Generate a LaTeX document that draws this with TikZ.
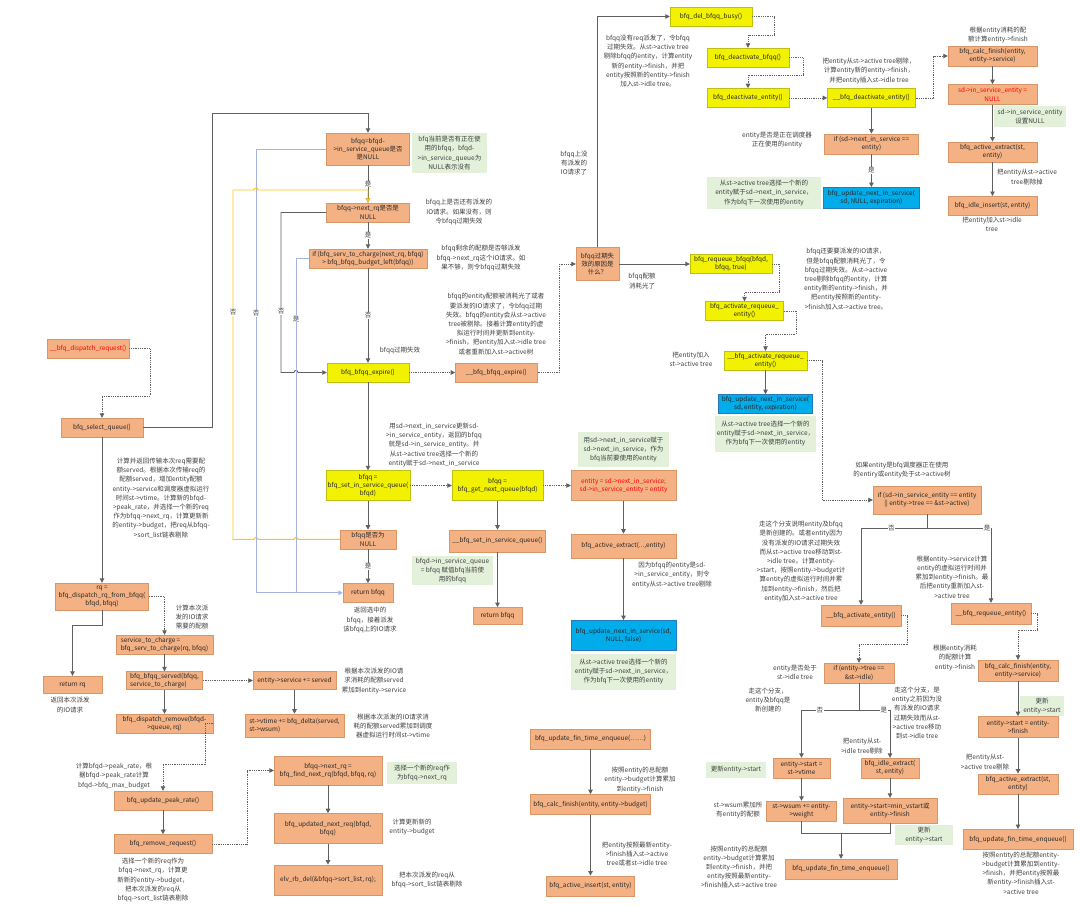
\documentclass[tikz,border=0pt]{standalone}
\usepackage{fontspec}
\setmainfont{Noto Sans CJK SC}
\usepackage{tikz}
\usetikzlibrary{arrows.meta,positioning,shadows}
\usepackage{xcolor}
\definecolor{boxorange}{RGB}{244,178,132}
\definecolor{boxorangeline}{RGB}{214,150,104}
\definecolor{boxyellow}{RGB}{242,242,0}
\definecolor{boxyellowline}{RGB}{190,190,20}
\definecolor{boxblue}{RGB}{0,172,234}
\definecolor{boxblueline}{RGB}{40,120,190}
\definecolor{notegreen}{RGB}{227,241,219}
\definecolor{notetext}{RGB}{62,62,62}
\definecolor{linegrey}{RGB}{96,96,96}
\definecolor{lineblue}{RGB}{165,178,226}
\definecolor{lineyellow}{RGB}{255,196,20}
\newcommand{\fnbox}[4]{%
  \node[#2, minimum width=#3, #4] (#1) }
\tikzset{
  fnbase/.style={rectangle, inner sep=1.5pt, align=center, text=black!85,
    font=\fontsize{6.4}{8.2}\selectfont,
    drop shadow={shadow xshift=0.8pt, shadow yshift=-0.8pt, opacity=0.25}},
  orangebox/.style={fnbase, fill=boxorange, draw=boxorangeline, line width=0.4pt, minimum height=19pt},
  yellowbox/.style={fnbase, fill=boxyellow, draw=boxyellowline, line width=0.4pt, minimum height=19pt},
  bluebox/.style={fnbase, fill=boxblue, draw=boxblueline, line width=0.4pt, minimum height=19pt},
  greennote/.style={rectangle, fill=notegreen, inner sep=1.5pt, align=center, text=notetext,
    font=\fontsize{6.5}{9.2}\selectfont},
  memo/.style={inner sep=0pt, align=center, text=notetext, font=\fontsize{6.5}{9.2}\selectfont},
  lbl/.style={fill=white, inner sep=0.6pt, text=notetext, font=\fontsize{6.5}{8}\selectfont},
  flowarrow/.style={draw=linegrey, line width=0.9pt, -{Triangle[length=4.5pt,width=4.5pt]}},
  callarrow/.style={draw=linegrey, line width=0.7pt, dash pattern=on 0.9pt off 0.9pt,
    -{Triangle[length=4.5pt,width=4.5pt]}},
  plainline/.style={draw=linegrey, line width=0.9pt},
  blueloop/.style={draw=lineblue, line width=0.9pt},
  blueflow/.style={blueloop, -{Triangle[length=4.5pt,width=4.5pt]}},
  yellowflow/.style={draw=lineyellow, line width=0.9pt, -{Triangle[length=4.5pt,width=4.5pt]}}
}
\begin{document}
\begin{tikzpicture}[x=1pt, y=-1pt, node distance=20pt and 20pt]
\useasboundingbox (0,0) rectangle (1080,906);

% bfq_select_queue
\fnbox{InSvcNull}{orangebox}{83pt}{minimum height=32pt, at={(368,149)}}
  {bfqq=bfqd-\\>in\_service\_queue是否\\是NULL};
\fnbox{NextRqNull}{orangebox}{83pt}{at={(368,212.5)}}
  {bfqq->next\_rq是否是\\NULL};
\fnbox{BudgetIf}{orangebox}{118pt}{at={(368,258.5)}}
  {if (bfq\_serv\_to\_charge(next\_rq, bfqq)\\> bfq\_bfqq\_budget\_left(bfqq))};
\fnbox{BfqqExpire}{yellowbox}{82pt}{at={(368,372.5)}}
  {bfq\_bfqq\_expire()};
\fnbox{BfqqExpireIn}{orangebox}{82pt}{right=46pt of BfqqExpire}
  {\_\_bfq\_bfqq\_expire()};
\fnbox{ExpireWhy}{orangebox}{43pt}{minimum height=33pt, at={(597.5,264)}}
  {bfqq过期失\\效的原因是\\什么？};

% expire: no more requests
\fnbox{DelBusy}{yellowbox}{82pt}{at={(711,16.5)}}
  {bfq\_del\_bfqq\_busy()};
\fnbox{DeactBfqq}{yellowbox}{82pt}{at={(748,57.5)}}
  {bfq\_deactivate\_bfqq()};
\fnbox{DeactEntity}{yellowbox}{82pt}{below=21pt of DeactBfqq}
  {bfq\_deactivate\_entity()};
\fnbox{DeactInner}{yellowbox}{88pt}{right=38pt of DeactEntity}
  {\_\_bfq\_deactivate\_entity()};
\fnbox{NextSvcIf}{orangebox}{94pt}{minimum height=20pt, below=26pt of DeactInner}
  {if (sd->next\_in\_service ==\\entity)};
\fnbox{UpdNextA}{bluebox}{96pt}{minimum height=21pt, below=33pt of NextSvcIf}
  {bfq\_update\_next\_in\_service(\\sd, NULL, expiration)};
\fnbox{CalcFinA}{orangebox}{89pt}{minimum height=20pt, at={(992.5,56)}}
  {bfq\_calc\_finish(entity,\\entity->service)};
\fnbox{InSvcEntNull}{orangebox}{89pt}{minimum height=20pt, below=18pt of CalcFinA, text=red}
  {sd->in\_service\_entity =\\NULL};
\fnbox{ActExtA}{orangebox}{89pt}{minimum height=20pt, below=37pt of InSvcEntNull}
  {bfq\_active\_extract(st,\\entity)};
\fnbox{IdleIns}{orangebox}{89pt}{below=34pt of ActExtA}
  {bfq\_idle\_insert(st, entity)};

% expire: budget exhausted
\fnbox{RequeueBfqq}{yellowbox}{82pt}{at={(731,264)}}
  {bfq\_requeue\_bfqq(bfqd,\\bfqq, true)};
\fnbox{ActRequeue}{yellowbox}{78pt}{at={(744.5,311)}}
  {bfq\_activate\_requeue\_\\entity()};
\fnbox{ActRequeueIn}{yellowbox}{83pt}{at={(765.5,360.5)}}
  {\_\_bfq\_activate\_requeue\_\\entity()};
\fnbox{UpdNextB}{bluebox}{94pt}{below=24pt of ActRequeueIn}
  {bfq\_update\_next\_in\_service(\\sd, entity, expiration)};

% pick a new queue
\fnbox{SetInSvc}{yellowbox}{84pt}{minimum height=30pt, at={(368,485.5)}}
  {bfqq =\\bfq\_set\_in\_service\_queue(\\bfqd)};
\fnbox{GetNext}{yellowbox}{91pt}{minimum height=30pt, at={(497.5,485.5)}}
  {bfqq =\\bfq\_get\_next\_queue(bfqd)};
\fnbox{PickEntity}{orangebox}{105pt}{minimum height=30pt, at={(623.5,485.5)}, text=red}
  {entity = sd->next\_in\_service;\\sd->in\_service\_entity = entity};
\fnbox{QNull}{orangebox}{56pt}{below=29pt of SetInSvc}
  {bfqq是否为\\NULL};
\fnbox{RetBfqqA}{orangebox}{50pt}{below=34pt of QNull}
  {return bfqq};
\fnbox{SetInSvcIn}{orangebox}{96pt}{minimum height=22pt, below=29pt of GetNext}
  {\_\_bfq\_set\_in\_service\_queue()};
\fnbox{RetBfqqB}{orangebox}{49pt}{minimum height=17pt, below=55pt of SetInSvcIn}
  {return bfqq};
\fnbox{ActExtB}{orangebox}{105pt}{minimum height=24pt, below=33pt of PickEntity}
  {bfq\_active\_extract(...,entity)};
\fnbox{UpdNextC}{bluebox}{105pt}{minimum height=30pt, below=62pt of ActExtB}
  {bfq\_update\_next\_in\_service(sd,\\NULL, false)};

% requeue / activate entity
\fnbox{ActiveIf}{orangebox}{108pt}{minimum height=28pt, at={(927,500)}}
  {if (sd->in\_service\_entity == entity\\|| entity->tree == \&st->active)};
\fnbox{ActivateIn}{orangebox}{80pt}{minimum height=21pt, at={(861,615.5)}}
  {\_\_bfq\_activate\_entity()};
\fnbox{RequeueIn}{orangebox}{80pt}{minimum height=21pt, at={(991,613.5)}}
  {\_\_bfq\_requeue\_entity()};
\fnbox{IdleIf}{orangebox}{70pt}{minimum height=20pt, at={(859,673)}}
  {if (entity->tree ==\\\&st->idle)};
\fnbox{CalcFinB}{orangebox}{80pt}{minimum height=21pt, at={(1018,670.5)}}
  {bfq\_calc\_finish(entity,\\entity->service)};
\fnbox{StartFin}{orangebox}{80pt}{minimum height=21pt, below=35pt of CalcFinB}
  {entity->start = entity-\\>finish};
\fnbox{ActExtC}{orangebox}{80pt}{minimum height=20pt, below=36pt of StartFin}
  {bfq\_active\_extract(st,\\entity)};
\fnbox{FinEnqA}{orangebox}{110pt}{minimum height=20pt, below=35pt of ActExtC}
  {bfq\_update\_fin\_time\_enqueue()};
\fnbox{StartVt}{orangebox}{57pt}{minimum height=20pt, at={(801.5,768)}}
  {entity->start =\\st->vtime};
\fnbox{IdleExt}{orangebox}{58pt}{minimum height=20pt, at={(890,768)}}
  {bfq\_idle\_extract(\\st, entity)};
\fnbox{WsumAdd}{orangebox}{70pt}{minimum height=20pt, at={(801.5,811)}}
  {st->wsum += entity-\\>weight};
\fnbox{StartMin}{orangebox}{94pt}{minimum height=25pt, at={(890,810.5)}}
  {entity->start=min\_vstart或\\entity->finish};
\fnbox{FinEnqB}{orangebox}{112pt}{minimum height=20pt, at={(841,869)}}
  {bfq\_update\_fin\_time\_enqueue()};

\fnbox{FinEnqAll}{orangebox}{120pt}{minimum height=20pt, at={(590.5,739)}}
  {bfq\_update\_fin\_time\_enqueue(……)};
\fnbox{CalcFinC}{orangebox}{120pt}{minimum height=20pt, below=45pt of FinEnqAll}
  {bfq\_calc\_finish(entity, entity->budget)};
\fnbox{ActIns}{orangebox}{88pt}{minimum height=20pt, below=61pt of CalcFinC}
  {bfq\_active\_insert(st, entity)};

% dispatch side
\fnbox{DispReq}{orangebox}{82pt}{at={(88,348.5)}, text=red}
  {\_\_bfq\_dispatch\_request()};
\fnbox{SelQueue}{orangebox}{82pt}{at={(102,427.5)}}
  {bfq\_select\_queue()};
\fnbox{DispRq}{orangebox}{93pt}{minimum height=27pt, at={(102,596.5)}}
  {rq =\\bfq\_dispatch\_rq\_from\_bfqq(\\bfqd, bfqq)};
\fnbox{RetRq}{orangebox}{59pt}{minimum height=17pt, at={(72.5,684.5)}}
  {return rq};
\fnbox{ServCharge}{orangebox}{97pt}{at={(164.5,644.5)}, align=left}
  {service\_to\_charge =\\bfq\_serv\_to\_charge(rq, bfqq)};
\fnbox{BfqqServed}{orangebox}{76pt}{minimum height=18pt, at={(164.5,680.5)}, align=left}
  {bfq\_bfqq\_served(bfqq,\\service\_to\_charge)};
\fnbox{DispRemove}{orangebox}{97pt}{at={(164.5,723.5)}}
  {bfq\_dispatch\_remove(bfqd-\\>queue, rq)};
\fnbox{PeakRate}{orangebox}{98pt}{at={(163,800.5)}}
  {bfq\_update\_peak\_rate()};
\fnbox{RemoveReq}{orangebox}{98pt}{below=24pt of PeakRate}
  {bfq\_remove\_request()};
\fnbox{SvcAdd}{orangebox}{83pt}{minimum height=18pt, at={(294.5,680.5)}}
  {entity->service += served};
\fnbox{VtimeAdd}{orangebox}{99pt}{minimum height=23pt, below=24pt of SvcAdd, align=left}
  {st->vtime += bfq\_delta(served,\\st->wsum)};
\fnbox{FindNext}{orangebox}{108pt}{minimum height=29pt, at={(328,770.5)}}
  {bfqq->next\_rq =\\bfq\_find\_next\_rq(bfqd, bfqq, rq)};
\fnbox{UpdNextReq}{orangebox}{108pt}{minimum height=30pt, below=28pt of FindNext}
  {bfq\_updated\_next\_req(bfqd,\\bfqq)};
\fnbox{RbDel}{orangebox}{108pt}{minimum height=30pt, below=21pt of UpdNextReq}
  {elv\_rb\_del(\&bfqq->sort\_list, rq);};

% green notes
\node[greennote, minimum width=75pt, minimum height=40pt] (NoteInSvc) at (449.5,153)
  {bfq当前是否有正在使\\用的bfqq，bfqd-\\>in\_service\_queue为\\NULL表示没有};
\node[greennote, minimum width=114pt, minimum height=32pt] (NoteNextA) at (764,193)
  {从st->active tree选择一个新的\\entity赋于sd->next\_in\_service，\\作为bfq下一次使用的entity};
\node[greennote, minimum width=72pt, minimum height=21pt] (NoteNullEnt) at (1030,116.5)
  {sd->in\_service\_entity\\设置NULL};
\node[greennote, minimum width=94pt, minimum height=36pt, below=2pt of UpdNextB] (NoteNextB)
  {从st->active tree选择一个新的\\entity赋于sd->next\_in\_service，\\作为bfq下一次使用的entity};
\node[greennote, minimum width=91pt, minimum height=35pt] (NotePick) at (623.5,449.5)
  {用sd->next\_in\_service赋于\\sd->next\_in\_service，作为\\bfq当前要使用的entity};
\node[greennote, minimum width=81pt, minimum height=29pt] (NoteSetQ) at (452.5,570.5)
  {bfqd->in\_service\_queue\\= bfqq 赋值bfq当前使\\用的bfqq};
\node[greennote, minimum width=105pt, minimum height=36pt, below=3pt of UpdNextC] (NoteNextC)
  {从st->active tree选择一个新的\\entity赋于sd->next\_in\_service，\\作为bfq下一次使用的entity};
\node[greennote, minimum width=70pt, minimum height=22pt] (NoteFindRq) at (422,773)
  {选择一个新的req作\\为bfqq->next\_rq};
\node[greennote, minimum width=44pt, minimum height=16pt] (NoteStartA) at (1042,706)
  {更新\\entity->start};
\node[greennote, minimum width=60pt, minimum height=16pt] (NoteStartB) at (736,770)
  {更新entity->start};
\node[greennote, minimum width=58pt, minimum height=20pt] (NoteStartC) at (924,835)
  {更新\\entity->start};

% plain notes
\node[memo] (TxtNextRq) at (459,212) {bfqq上是否还有派发的\\IO请求。如果没有，则\\令bfqq过期失效};
\node[memo] (TxtBudget) at (481,258) {bfqq剩余的配额是否够派发\\bfqq->next\_rq这个IO请求。如\\果不够，则令bfqq过期失效};
\node[memo] (TxtExpire) at (400,351) {bfqq过期失效};
\node[memo] (TxtExpireIn) at (496,324) {bfqq的entity配额被消耗光了或者\\要派发的IO请求了，令bfqq过期\\失效。bfqq的entity会从st->active\\tree被剔除。接着计算entity的虚\\拟运行时间并更新到entity-\\>finish，把entity加入st->idle tree\\或者重新加入st->active树};
\node[memo] (TxtNoIO) at (574,163) {bfqq上没\\有派发的\\IO请求了};
\node[memo] (TxtBudgetOut) at (642,281) {bfqq配额\\消耗光了};
\node[memo] (TxtDelBusy) at (648,61) {bfqq没有req派发了，令bfqq\\过期失效。从st->active tree\\剔除bfqq的entity，计算entity\\新的entity->finish，并把\\entity按照新的entity->finish\\加入st->idle tree。};
\node[memo] (TxtDeactIn) at (869,71) {把entity从st->active tree剔除，\\计算entity新的entity->finish，\\并把entity插入st->idle tree};
\node[memo] (TxtIsNext) at (777,140) {entity是否是正在调度器\\正在使用的entity};
\node[memo] (TxtCalcA) at (998,35) {根据entity消耗的配\\额计算entity->finish};
\node[memo] (TxtExtA) at (1027,177) {把entity从st->active\\tree剔除掉};
\node[memo] (TxtIdleIns) at (992,224) {把entity加入st->idle\\tree};
\node[memo] (TxtRequeue) at (846,279) {bfqq还要要派发的IO请求，\\但是bfqq配额消耗光了，令\\bfqq过期失效。从st->active\\tree剔除bfqq的entity，计算\\entity新的entity->finish，并\\把entity按照新的entity-\\>finish加入st->active tree。};
\node[memo] (TxtAddActive) at (691,359) {把entity加入\\st->active tree};
\node[memo] (TxtSetSvc) at (434,445) {用sd->next\_in\_service更新sd-\\>in\_service\_entity，返回的bfqq\\就是sd->in\_service\_entity。并\\从st->active tree选择一个新的\\entity赋于sd->next\_in\_service};
\node[memo] (TxtRetA) at (370,620) {返回选中的\\bfqq，接着派发\\该bfqq上的IO请求};
\node[memo] (TxtExtB) at (672,575) {因为bfqq的entity是sd-\\>in\_service\_entity，则令\\entity从st->active tree剔除};
\node[memo] (TxtActiveIf) at (902,470) {如果entity是bfq调度器正在使用\\的entiry或entity处于st->active树};
\node[memo] (TxtNoBranch) at (801,561.5) {走这个分支说明entity及bfqq\\是新创建的。或者entity因为\\没有派发的IO请求过期失效\\而从st->active tree移动到st-\\>idle tree。计算entity-\\>start，按照entity->budget计\\算entity的虚拟运行时间并累\\加到entity->finish，然后把\\entity加入st->active tree};
\node[memo] (TxtYesBranch) at (952,577) {根据entity->service计算\\entity的虚拟运行时间并\\累加到entity->finish。最\\后把entity重新加入st-\\>active tree};
\node[memo] (TxtIsIdle) at (795,672) {entity是否处于\\st->idle tree};
\node[memo] (TxtCalcB) at (955,658) {根据entity消耗\\的配额计算\\entity->finish};
\node[memo] (TxtNewEnt) at (768,700) {走这个分支，\\entity及bfqq是\\新创建的};
\node[memo] (TxtIdleMove) at (917,713) {走这个分支，是\\entity之前因为没\\有派发的IO请求\\过期失效而从st-\\>active tree移动\\到st->idle tree};
\node[memo] (TxtIdleDel) at (862,746) {把entity从st-\\>idle tree剔除};
\node[memo] (TxtWsum) at (738,810) {st->wsum累加所\\有entity的配额};
\node[memo] (TxtEnqB) at (739,867) {按照entity的总配额\\entity->budget计算累加\\到entity->finish，并把\\entity按照最新entity-\\>finish插入st->active tree};
\node[memo] (TxtActDel) at (985,762) {把entity从st-\\>active tree剔除};
\node[memo] (TxtEnqA) at (1021,873) {按照entity的总配额entity-\\>budget计算累加到entity-\\>finish，并把entity按照最\\新entity->finish插入st-\\>active tree};
\node[memo] (TxtBudgetSum) at (640,780) {按照entity的总配额\\entity->budget计算累加\\到entity->finish};
\node[memo] (TxtInsert) at (637,854) {把entity按照最新entity-\\>finish插入st->active\\tree或者st->idle tree};
\node[memo] (TxtServed) at (161,498) {计算并返回传输本次req需要配\\额served。根据本次传输req的\\配额served，增加entity配额\\entity->service和调度器虚拟运行\\时间st->vtime。计算新的bfqd-\\>peak\_rate，并选择一个新的req\\作为bfqq->next\_rq，计算更新新\\的entity->budget，把req从bfqq-\\>sort\_list链表剔除};
\node[memo] (TxtRetRq) at (70,705) {返回本次派发\\的IO请求};
\node[memo] (TxtCharge) at (192,617) {计算本次派\\发的IO请求\\需要的配额};
\node[memo] (TxtSvcAdd) at (374,681) {根据本次派发的IO请\\求消耗的配额served\\累加到entity->service};
\node[memo] (TxtVtime) at (393,726) {根据本次派发的IO请求消\\耗的配额served累加到调度\\器虚拟运行时间st->vtime};
\node[memo] (TxtPeak) at (114,776) {计算bfqd->peak\_rate，根\\据bfqd->peak\_rate计算\\bfqd->bfq\_max\_budget};
\node[memo] (TxtRemove) at (153,880) {选择一个新的req作为\\bfqq->next\_rq，计算更\\新新的entity->budget，\\把本次派发的req从\\bfqq->sort\_list链表剔除};
\node[memo] (TxtUpdBudget) at (412,827) {计算更新新的\\entity->budget};
\node[memo] (TxtSortDel) at (427,880) {把本次派发的req从\\bfqq->sort\_list链表剔除};

% connectors: select queue
\draw[flowarrow] (SelQueue.east) -| (212,113) -| (InSvcNull.north);
\draw[flowarrow] (InSvcNull) -- node[lbl]{是} (NextRqNull);
\draw[flowarrow] (NextRqNull) -- node[lbl]{是} (BudgetIf);
\draw[flowarrow] (BudgetIf) -- node[lbl]{否} (BfqqExpire);
\draw[flowarrow] (BfqqExpire) -- (SetInSvc);
\draw[flowarrow] (NextRqNull.west) -| node[lbl, pos=0.81]{否} (281,372.5)
  -- (294,372.5) arc[start angle=180, end angle=360, radius=2] -- (BfqqExpire.west);
\draw[blueflow] (InSvcNull.west) -| node[lbl, pos=0.685]{否} (RetBfqqA.west -| 256,0) -- (RetBfqqA.west);
\draw[blueloop] (BudgetIf.west) -| node[lbl, pos=0.59]{是} (RetBfqqA.west -| 296,0);
\draw[yellowflow] (QNull.west) -- (QNull.west -| 298,0) arc[start angle=0, end angle=-180, radius=2]
  -- (QNull.west -| 258,0) arc[start angle=0, end angle=-180, radius=2]
  -- (QNull.west -| 233,0) -- node[lbl, pos=0.65]{否} (233,190)
  -- (254,190) arc[start angle=180, end angle=360, radius=2] -- (368,190) -- (NextRqNull.north);

% connectors: expire
\draw[callarrow] (BfqqExpire) -- (BfqqExpireIn);
\draw[callarrow] (BfqqExpireIn.east) -- ++(22,0) |- (ExpireWhy.west);
\draw[flowarrow] (ExpireWhy.north) |- (DelBusy.west);
\draw[flowarrow] (ExpireWhy.east) -- (RequeueBfqq.west);
\draw[callarrow] (DelBusy.east) -| (774,35) -| (DeactBfqq.north);
\draw[callarrow] (DeactBfqq.east) -| (803,75) -| (DeactEntity.north);
\draw[callarrow] (DeactEntity) -- (DeactInner);
\draw[flowarrow] (DeactInner) -- (NextSvcIf);
\draw[flowarrow] (NextSvcIf) -- node[lbl]{是} (UpdNextA);
\draw[callarrow] (DeactInner.east) -- ++(18,0) |- (CalcFinA.west);
\draw[flowarrow] (CalcFinA) -- (InSvcEntNull);
\draw[flowarrow] (InSvcEntNull) -- (ActExtA);
\draw[flowarrow] (ActExtA) -- (IdleIns);
\draw[callarrow] (RequeueBfqq.east) -| (779,292) -| (ActRequeue.north);
\draw[callarrow] (ActRequeue.east) -| (796,334) -| (ActRequeueIn.north);
\draw[flowarrow] (ActRequeueIn) -- (UpdNextB);
\draw[callarrow] (ActRequeueIn.east) -- ++(15,0) |- (ActiveIf.west);

% connectors: activate / requeue
\draw[flowarrow] (ActiveIf.south) -- ++(0,14) coordinate (ActFork)
  -| node[lbl, pos=0.27]{否} (ActivateIn.north);
\draw[flowarrow] (ActFork) -| node[lbl, pos=0.47]{是} (RequeueIn.north);
\draw[callarrow] (ActivateIn.east) -| (907,644) -| (IdleIf.north);
\draw[callarrow] (RequeueIn.east) -| (1037,630) -| (CalcFinB.north);
\draw[flowarrow] (CalcFinB) -- (StartFin);
\draw[flowarrow] (StartFin) -- (ActExtC);
\draw[flowarrow] (ActExtC) -- (FinEnqA);
\draw[flowarrow] (IdleIf.south) -- ++(0,27) coordinate (IdleFork)
  -| node[lbl, pos=0.34]{否} (StartVt.north);
\draw[flowarrow] (IdleFork) -| node[lbl, pos=0.4]{是} (IdleExt.north);
\draw[flowarrow] (StartVt) -- (WsumAdd);
\draw[flowarrow] (IdleExt) -- (StartMin);
\coordinate (Merge) at (841,833);
\draw[plainline] (WsumAdd.south) |- (Merge) -| (StartMin.south);
\draw[flowarrow] (Merge) -- (FinEnqB);
\draw[flowarrow] (FinEnqAll) -- (CalcFinC);
\draw[flowarrow] (CalcFinC) -- (ActIns);

% connectors: new queue
\draw[callarrow] (SetInSvc) -- (GetNext);
\draw[callarrow] (GetNext) -- (PickEntity);
\draw[flowarrow] (SetInSvc) -- (QNull);
\draw[flowarrow] (QNull) -- node[lbl]{是} (RetBfqqA);
\draw[flowarrow] (GetNext) -- (SetInSvcIn);
\draw[flowarrow] (SetInSvcIn) -- (RetBfqqB);
\draw[flowarrow] (PickEntity) -- (ActExtB);
\draw[flowarrow] (ActExtB) -- (UpdNextC);

% connectors: dispatch
\draw[callarrow] (DispReq.east) -| (150,396) -| (SelQueue.north);
\draw[flowarrow] (SelQueue) -- (DispRq);
\draw[flowarrow] (DispRq.south) -- ++(0,15) -| (RetRq.north);
\draw[callarrow] (DispRq.east) -| (ServCharge.north);
\draw[flowarrow] (ServCharge) -- (BfqqServed);
\draw[flowarrow] (BfqqServed) -- (DispRemove);
\draw[callarrow] (BfqqServed) -- (SvcAdd);
\draw[flowarrow] (SvcAdd) -- (VtimeAdd);
\draw[callarrow] (DispRemove.east) -| (205,764) -| (PeakRate.north);
\draw[flowarrow] (PeakRate) -- (RemoveReq);
\draw[callarrow] (RemoveReq.east) -- ++(35,0) |- (FindNext.west);
\draw[flowarrow] (FindNext) -- (UpdNextReq);
\draw[flowarrow] (UpdNextReq) -- (RbDel);

\end{tikzpicture}
\end{document}
